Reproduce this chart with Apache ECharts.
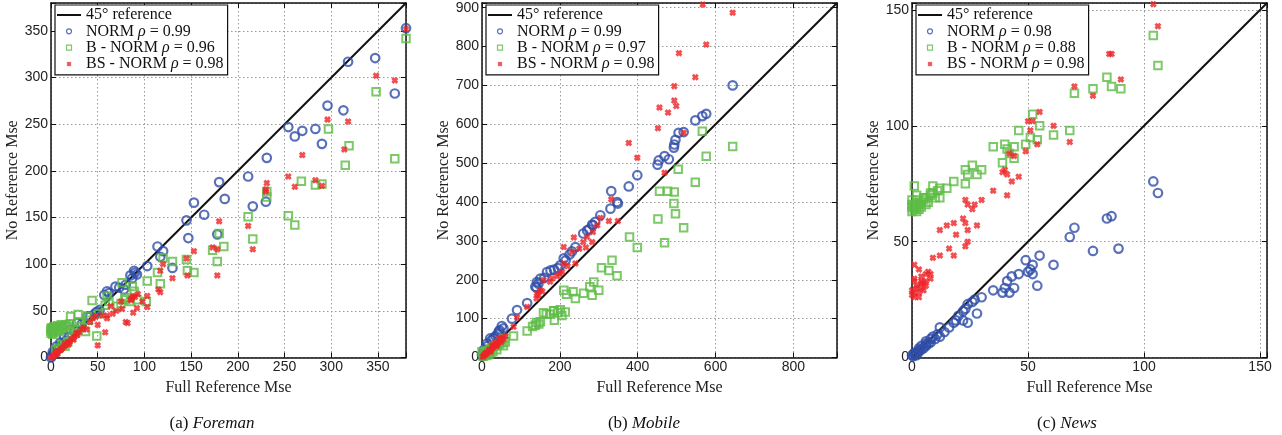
<!DOCTYPE html>
<html>
<head>
<meta charset="utf-8">
<title>NR vs FR Mse</title>
<script src="https://cdn.jsdelivr.net/npm/echarts@6/dist/echarts.min.js"></script>
<style>
  html, body { margin: 0; padding: 0; background: #fff; }
  #chart { width: 1282px; height: 435px; }
</style>
</head>
<body>
<div id="chart"></div>
<script>
// ---- data ----
// panel titles / correlations
var panelNames = ['Foreman', 'Mobile', 'News'];
var panelLetters = ['a', 'b', 'c'];
var rhoNorm = ['0.99', '0.99', '0.98'];
var rhoB    = ['0.96', '0.97', '0.88'];
var rhoBS   = ['0.98', '0.98', '0.98'];
// axis ranges and tick steps
var axisMax = [380, 912, 153];
var xTickStep = [50, 200, 50];
var yTickStep = [50, 100, 50];

// Foreman
var foremanNorm = [[380,353],[318,317],[347,321],[368,283],[296,270],[313,265],[254,247],[261,237],[269,243],[283,245],[290,229],[231,214],[211,194],[180,188],[186,170],[153,166],[216,162],[230,167],[164,153],[178,132],[145,147],[147,128],[114,119],[120,114],[117,108],[130,96],[103,98],[89,93],[92,89],[87,85],[85,88],[90,91],[80,78],[73,75],[69,76],[60,71],[57,67],[62,69],[78,73],[49,49],[52,51],[39,44],[42,44],[47,47],[28,37],[33,36],[25,29],[21,30],[19,22],[14,22],[10,16],[9,10],[6,12],[4,5],[3,4],[1,2],[0,0],[2,6],[7,9],[12,14],[16,18]];
var foremanB = [[380,342],[348,285],[368,213],[297,245],[319,227],[315,206],[268,189],[283,185],[290,186],[231,178],[231,172],[211,151],[254,152],[261,142],[216,127],[180,133],[185,119],[173,115],[178,103],[145,105],[146,93],[153,91],[130,103],[114,91],[117,79],[120,107],[103,82],[102,60],[92,62],[87,76],[89,71],[76,80],[79,64],[71,55],[60,66],[44,61],[49,23],[51,47],[39,44],[29,46],[21,44],[37,28],[58,56],[62,60],[40,40],[30,38],[85,60],[80,62],[75,58],[0,26],[1,28],[2,30],[3,27],[4,31],[5,29],[6,32],[8,30],[10,33],[12,31],[14,34],[16,35],[2,25],[0,29],[1,32],[7,34],[9,28],[18,33],[20,36],[0,31],[3,33],[11,35],[5,8],[8,10],[12,14],[18,17],[22,22],[26,26],[15,12],[28,30],[32,33]];
var foremanBS = [[380,352],[348,302],[368,297],[296,255],[318,253],[314,223],[269,217],[254,194],[261,183],[283,190],[290,184],[231,187],[230,180],[230,178],[211,141],[216,116],[180,146],[178,116],[178,88],[173,118],[153,114],[145,106],[146,88],[120,100],[117,93],[115,73],[117,70],[130,85],[103,66],[103,54],[92,53],[93,68],[87,64],[88,48],[80,38],[82,37],[76,52],[64,55],[60,45],[58,27],[50,35],[50,13],[42,38],[38,30],[0,0],[2,1],[4,3],[5,5],[7,4],[8,7],[10,8],[12,10],[14,12],[16,13],[18,16],[20,17],[22,20],[25,22],[28,24],[30,27],[33,30],[35,32],[45,42],[48,44],[55,45],[60,42],[70,50],[66,47],[75,60],[85,62],[90,65],[98,60],[86,62],[88,66],[3,2],[6,6],[11,9],[15,15],[19,14],[24,19],[27,26]];

// Mobile
var mobileNorm = [[644,700],[576,627],[566,621],[548,610],[518,580],[505,578],[497,560],[494,548],[493,540],[469,518],[480,510],[454,507],[451,496],[399,469],[377,440],[332,428],[347,400],[349,396],[330,383],[304,366],[291,349],[283,342],[270,327],[260,319],[275,330],[285,340],[240,284],[231,273],[225,265],[215,250],[210,255],[201,237],[195,230],[185,226],[176,224],[167,220],[160,205],[150,203],[141,194],[137,182],[145,190],[140,180],[116,140],[90,122],[77,100],[51,81],[43,66],[45,70],[55,75],[35,55],[25,45],[21,49],[15,30],[13,36],[8,20],[4,19],[0,6],[2,4],[6,10],[10,15],[30,50],[40,60]];
var mobileB = [[644,543],[566,582],[576,518],[504,484],[548,451],[456,428],[477,428],[494,426],[493,396],[497,370],[518,334],[452,356],[469,295],[379,310],[399,283],[334,250],[326,224],[307,231],[347,210],[287,194],[300,173],[277,182],[283,160],[261,165],[240,152],[234,169],[210,173],[217,163],[214,117],[201,123],[184,120],[174,111],[158,115],[186,96],[150,92],[137,83],[146,86],[116,68],[81,55],[56,49],[185,120],[195,115],[165,112],[205,108],[140,90],[130,80],[0,15],[5,10],[10,18],[15,12],[20,22],[25,25],[30,28],[35,30],[40,32],[45,35],[50,38],[55,30],[60,40],[12,5],[8,14],[18,8],[28,15],[38,20],[3,3],[22,12]];
var mobileBS = [[567,908],[644,887],[576,805],[506,783],[548,721],[494,698],[494,661],[499,647],[456,643],[478,630],[452,590],[518,578],[377,552],[399,514],[469,475],[332,407],[349,351],[326,351],[304,359],[296,340],[285,323],[270,310],[260,297],[267,283],[283,297],[236,309],[231,272],[240,242],[210,284],[210,242],[206,220],[193,209],[180,203],[158,199],[150,173],[141,165],[140,152],[116,130],[90,103],[81,79],[2,2],[4,3],[6,8],[8,7],[10,12],[12,10],[16,14],[18,20],[20,18],[22,15],[25,22],[25,30],[28,26],[30,32],[32,28],[35,33],[35,40],[38,30],[40,35],[42,38],[45,42],[45,50],[48,45],[50,40],[52,50],[55,48],[60,55],[145,160],[155,170],[175,195],[200,215],[220,235],[250,280]];

// News
var newsNorm = [[104,76],[106,71],[86,61],[84,60],[70,56],[68,52],[78,46],[89,47],[55,44],[61,40],[49,42],[52,40],[51,38],[50,37],[52,36],[46,36],[54,31],[43,35],[41,33],[44,30],[40,30],[39,28],[42,28],[35,29],[30,26],[28,19],[27,25],[26,24],[24,23],[23,21],[22,20],[24,15],[22,16],[18,15],[19,16],[16,13],[12,13],[12,9],[9,9],[8,8],[6,6],[4,5],[3,3],[1,2],[0,1],[0.5,0.5],[1,1],[2,2],[3,2.5],[4,3.5],[5,4],[6,5],[7,6],[8,6.5],[10,8],[6,7],[3,4],[2,1],[14,11],[20,18],[11,10]];
var newsB = [[104,139],[106,126],[84,121],[86,117],[90,116],[78,116],[70,114],[52,105],[55,100],[46,98],[68,98],[61,96],[49,92],[51,95],[54,94],[35,91],[40,92],[44,91],[41,90],[42,88],[44,86],[39,84],[26,83],[30,81],[23,81],[28,79],[24,79],[18,76],[23,75],[15,73],[12,73],[9,74],[1,74],[12,69],[8,71],[5,69],[2,68],[0,66],[1,65],[0,63],[1,64],[2,65],[3,66],[4,67],[5,68],[6,69],[7,67],[8,70],[9,71],[10,69],[11,72],[3,64],[1,66],[0,65],[2,63],[4,65],[6,66],[0,68],[2,70]];
var newsBS = [[104,152.5],[106,143],[85,131],[86,131],[90,120],[70,117],[78,113],[55,106],[52,102],[51,98],[50,102],[61,100],[68,93],[54,92],[49,89],[42,88],[44,87],[40,81],[39,80],[41,79],[46,78],[43,76],[35,72],[41,70],[23,68],[30,68],[27,66],[24,66],[26,64],[22,60],[18,58],[15,57],[12,55],[23,58],[24,55],[28,57],[19,53],[24,50],[23,48],[16,47],[12,44],[9,43],[18,44],[1,40],[3,38],[7,37],[6,36],[4,35],[8,34],[1,33],[4,32],[2,30],[0,29],[1,28],[1,26],[3,28],[4,30],[5,32],[2,31],[6,33],[1,34],[0,27],[3,26],[5,29],[4,33],[8,36],[6,31]];

var normSets = [foremanNorm, mobileNorm, newsNorm];
var bSets = [foremanB, mobileB, newsB];
var bsSets = [foremanBS, mobileBS, newsBS];

// ---- styling ----
var BLUE = '#2f4ea8';
var GREEN = '#5dbb45';
var RED = '#ee2428';
var CROSS = 'path://M0,3L3,0L5,2L7,0L10,3L8,5L10,7L7,10L5,8L3,10L0,7L2,5Z';
var SQUARE = 'path://M0,0L10,0L10,10L0,10Z';
var BAR = 'path://M0,0L24,0L24,2L0,2Z';
var gridLeft = [51, 482, 912];
var legendLeft = [55, 486, 916];
var captionX = [212, 644, 1067];
var serif = '"Liberation Serif", "Times New Roman", serif';
var sans = '"Liberation Sans", Arial, Helvetica, sans-serif';

var axisLineStyle = { color: '#111', width: 1.5 };

var chart = echarts.init(document.getElementById('chart'), null, { renderer: 'canvas' });

var grids = [], xAxes = [], yAxes = [], series = [], legends = [], graphics = [];

function tickFmt(step) {
    return function (v) { return (Math.abs(v % step) < 1e-6) ? String(v) : ''; };
}

for (var i = 0; i < 3; i++) {
    var p = panelLetters[i];
    var max = axisMax[i];
    grids.push({ left: gridLeft[i], top: 3, width: 355, height: 354.5, outerBoundsMode: 'none', containLabel: false });

    // bottom / left axes with labels and grid lines
    xAxes.push({
        type: 'value', gridIndex: i, position: 'bottom', min: 0, max: max, interval: xTickStep[i],
        name: 'Full Reference Mse', nameLocation: 'middle', nameGap: 11,
        nameTextStyle: { fontFamily: serif, fontSize: 16, color: '#222' },
        axisLine: { show: true, onZero: false, lineStyle: axisLineStyle },
        axisTick: { show: true, inside: true, length: 5, lineStyle: { color: '#111', width: 1 } },
        axisLabel: { margin: 3, fontFamily: sans, fontSize: 14, color: '#222', formatter: tickFmt(xTickStep[i]) },
        splitLine: { show: true, lineStyle: { color: '#999', width: 1, type: [1.5, 2.5] } }
    });
    yAxes.push({
        type: 'value', gridIndex: i, position: 'left', min: 0, max: max, interval: yTickStep[i],
        name: 'No Reference Mse', nameLocation: 'middle', nameGap: 21,
        nameTextStyle: { fontFamily: serif, fontSize: 16, color: '#222' },
        axisLine: { show: true, onZero: false, lineStyle: axisLineStyle },
        axisTick: { show: true, inside: true, length: 5, lineStyle: { color: '#111', width: 1 } },
        axisLabel: { margin: 3, fontFamily: sans, fontSize: 14, color: '#222', formatter: tickFmt(yTickStep[i]) },
        splitLine: { show: true, lineStyle: { color: '#999', width: 1, type: [1.5, 2.5] } }
    });
    // top / right box axes (ticks only)
    xAxes.push({
        type: 'value', gridIndex: i, position: 'top', min: 0, max: max, interval: xTickStep[i],
        axisLine: { show: true, onZero: false, lineStyle: axisLineStyle },
        axisTick: { show: true, inside: true, length: 5, lineStyle: { color: '#111', width: 1 } },
        axisLabel: { show: false }, splitLine: { show: false }
    });
    yAxes.push({
        type: 'value', gridIndex: i, position: 'right', min: 0, max: max, interval: yTickStep[i],
        axisLine: { show: true, onZero: false, lineStyle: axisLineStyle },
        axisTick: { show: true, inside: true, length: 5, lineStyle: { color: '#111', width: 1 } },
        axisLabel: { show: false }, splitLine: { show: false }
    });

    var xi = 2 * i, yi = 2 * i;
    var nRef = p + '|45° reference';
    var nNorm = p + '|NORM|' + rhoNorm[i];
    var nB = p + '|B - NORM|' + rhoB[i];
    var nBS = p + '|BS - NORM|' + rhoBS[i];

    series.push({
        name: nRef, type: 'line', xAxisIndex: xi, yAxisIndex: yi,
        data: [[0, 0], [max, max]], symbol: 'none',
        lineStyle: { color: '#111', width: 2 }, itemStyle: { color: '#111' }, z: 1
    });
    series.push({
        name: nNorm, type: 'scatter', xAxisIndex: xi, yAxisIndex: yi, data: normSets[i],
        symbol: 'circle', symbolSize: 8.5,
        itemStyle: { color: 'rgba(0,0,0,0)', borderColor: BLUE, borderWidth: 2.2 }, z: 2
    });
    series.push({
        name: nB, type: 'scatter', xAxisIndex: xi, yAxisIndex: yi, data: bSets[i],
        symbol: 'rect', symbolSize: 7.5,
        itemStyle: { color: 'rgba(0,0,0,0)', borderColor: GREEN, borderWidth: 2 }, z: 3
    });
    series.push({
        name: nBS, type: 'scatter', xAxisIndex: xi, yAxisIndex: yi, data: bsSets[i],
        symbol: CROSS, symbolSize: 7,
        itemStyle: { color: RED }, z: 4
    });

    legends.push({
        orient: 'vertical', left: legendLeft[i], top: 5,
        padding: [2, 4, 3, 2], itemGap: 0.3, itemWidth: 24, itemHeight: 5,
        backgroundColor: '#fff', borderColor: '#111', borderWidth: 1.2,
        selectedMode: false, z: 10,
        textStyle: {
            fontFamily: serif, fontSize: 16, color: '#111', lineHeight: 15,
            rich: {
                i: { fontFamily: serif, fontSize: 16, fontStyle: 'italic', color: '#111', lineHeight: 15 },
                eq: { fontFamily: serif, fontSize: 16, color: '#111', padding: [0, 4, 0, 4], lineHeight: 15 }
            }
        },
        formatter: function (name) {
            var parts = name.split('|');
            if (parts.length < 3) return parts[1];
            return parts[1] + ' {i|ρ}{eq|=}' + parts[2];
        },
        data: [
            { name: nRef, icon: BAR, itemStyle: { color: '#111', borderWidth: 0 } },
            { name: nNorm, icon: 'circle', itemStyle: { color: 'rgba(0,0,0,0)', borderColor: BLUE, borderWidth: 1.2 } },
            { name: nB, icon: SQUARE, itemStyle: { color: 'rgba(0,0,0,0)', borderColor: GREEN, borderWidth: 1.2 } },
            { name: nBS, icon: CROSS, itemStyle: { color: RED, borderWidth: 0 } }
        ]
    });

    graphics.push({
        type: 'text', x: captionX[i], y: 424,
        style: {
            text: '(' + p + ') {i|' + panelNames[i] + '}',
            fontFamily: serif, fontSize: 17, fill: '#111',
            align: 'center', verticalAlign: 'middle',
            rich: { i: { fontFamily: serif, fontSize: 17, fontStyle: 'italic', fill: '#111' } }
        }
    });
}

chart.setOption({
    animation: false,
    backgroundColor: '#fff',
    grid: grids,
    xAxis: xAxes,
    yAxis: yAxes,
    legend: legends,
    series: series,
    graphic: graphics
});

window.addEventListener('resize', function () {
    chart.resize();
});
</script>
</body>
</html>
